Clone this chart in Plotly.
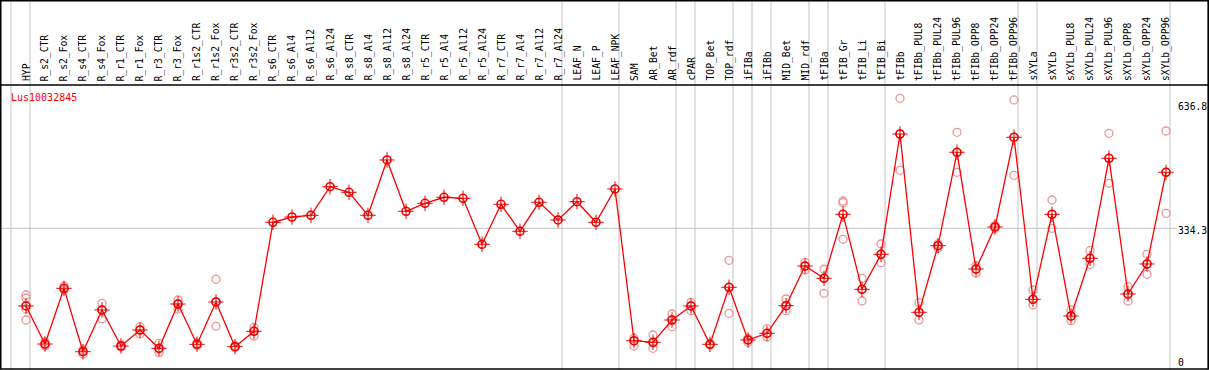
import plotly.graph_objects as go

categories = [
    "HYP", "R_s2_CTR", "R_s2_Fox", "R_s4_CTR", "R_s4_Fox", "R_r1_CTR", "R_r1_Fox",
    "R_r3_CTR", "R_r3_Fox", "R_r1s2_CTR", "R_r1s2_Fox", "R_r3s2_CTR", "R_r3s2_Fox",
    "R_s6_CTR", "R_s6_Al4", "R_s6_Al12", "R_s6_Al24", "R_s8_CTR", "R_s8_Al4",
    "R_s8_Al12", "R_s8_Al24", "R_r5_CTR", "R_r5_Al4", "R_r5_Al12", "R_r5_Al24",
    "R_r7_CTR", "R_r7_Al4", "R_r7_Al12", "R_r7_Al24", "LEAF_N", "LEAF_P", "LEAF_NPK",
    "SAM", "AR_Bet", "AR_rdf", "cPAR", "TOP_Bet", "TOP_rdf", "iFIBa", "iFIBb",
    "MID_Bet", "MID_rdf", "tFIBa", "tFIB_Gr", "tFIB_Li", "tFIB_Bi", "tFIBb",
    "tFIBb_PUL8", "tFIBb_PUL24", "tFIBb_PUL96", "tFIBb_OPP8", "tFIBb_OPP24", "tFIBb_OPP96",
    "sXYLa", "sXYLb", "sXYLb_PUL8", "sXYLb_PUL24", "sXYLb_PUL96", "sXYLb_OPP8",
    "sXYLb_OPP24", "sXYLb_OPP96",
]

means = [
    153.6, 65.1, 194.7, 47.2, 144.3, 60.5, 97.7, 55.1, 158.2, 64.4, 162.9, 58.9, 94.7,
    348.3, 360.6, 364.6, 431.1, 418.1, 364.6, 493.3, 373.9, 392.5, 406.5, 404.1, 297.1,
    390.2, 327.4, 394.8, 353.7, 396.2, 348.3, 425.8,
    72.8, 69.1, 121.0, 153.6, 64.4, 197.1, 74.5, 90.0, 154.3, 246.6, 218.0, 366.9,
    192.4, 273.8, 553.7, 138.9, 293.9, 511.2, 239.6, 337.4, 546.1,
    169.1, 366.9, 130.3, 264.5, 497.2, 181.5, 251.3, 464.6,
]

replicates = [
    [179.2, 172.2, 146.6, 121.0], [69.8, 62.8, 60.5], [200.1, 193.1, 190.8],
    [51.2, 41.9, 48.9], [159.8, 144.3, 124.0], [62.8, 60.5, 58.2], [105.4, 97.7, 88.4],
    [66.8, 53.5, 44.9], [167.5, 158.2, 146.6], [67.5, 64.0, 61.7], [215.7, 162.9, 106.3],
    [61.7, 58.2, 57.0], [104.0, 95.4, 83.8],
    [], [], [], [], [], [], [], [], [], [], [], [], [], [], [], [], [], [], [],
    [78.4, 72.1, 60.5], [86.1, 67.5, 55.1], [134.9, 121.0, 105.4], [162.2, 153.6, 142.6],
    [66.3, 64.4, 62.8], [259.9, 197.1, 136.6], [78.4, 74.5, 69.1], [100.7, 90.0, 80.7],
    [169.8, 153.6, 142.6], [255.2, 246.6, 237.3], [239.0, 218.0, 183.1],
    [397.9, 393.9, 308.7], [218.0, 192.4, 165.2], [297.8, 273.8, 254.3],
    [636.8, 553.7, 469.3], [161.2, 138.9, 121.0], [297.8, 293.9, 287.8],
    [557.7, 511.2, 464.6], [247.3, 239.6, 229.6], [340.9, 337.4, 333.9],
    [632.9, 546.1, 457.7],
    [190.8, 169.1, 155.9], [400.2, 366.9, 334.3], [144.3, 130.3, 119.4],
    [282.2, 264.5, 250.6], [555.4, 497.2, 439.0], [198.5, 181.5, 165.2],
    [273.8, 251.3, 227.3], [560.7, 464.6, 369.2],
]

group_ends = [-1, 0, 28, 31, 34, 35, 37, 38, 39, 41, 42, 45, 52, 53, 60]
title_text = "Lus10032845"
y_tick_labels = ["636.8", "334.3", "0"]
grid_value = 334.3

W, H = 1209, 370
x_idx = list(range(len(categories)))

rx, ry = [], []
for i, reps in enumerate(replicates):
    for v in reps:
        rx.append(i)
        ry.append(v)

fig = go.Figure()
fig.add_trace(go.Scatter(
    x=rx, y=ry, mode="markers", hoverinfo="skip",
    marker=dict(symbol="circle-open", size=8, color="rgb(236,150,150)",
                line=dict(width=1.3, color="rgb(236,150,150)")),
))
fig.add_trace(go.Scatter(
    x=x_idx, y=means, mode="lines", hoverinfo="skip",
    line=dict(color="#ff0000", width=1.3),
))
fig.add_trace(go.Scatter(
    x=x_idx, y=means, mode="markers", hoverinfo="skip",
    marker=dict(symbol="cross-thin-open", size=11, color="#ee0000",
                line=dict(width=1.0, color="#ee0000")),
))
fig.add_trace(go.Scatter(
    x=x_idx, y=means, mode="markers", hoverinfo="skip",
    marker=dict(symbol="circle-open", size=8, color="#ee0000",
                line=dict(width=1.6, color="#ee0000")),
))

shapes = []
for g in group_ends:
    shapes.append(dict(type="line", xref="x", yref="paper", x0=g + 0.21, x1=g + 0.21,
                       y0=0, y1=1, line=dict(color="#c4c4c4", width=1), layer="below"))
shapes.append(dict(type="line", xref="paper", yref="y", x0=0, x1=1177 / W,
                   y0=grid_value, y1=grid_value, line=dict(color="#c4c4c4", width=1),
                   layer="below"))
shapes.append(dict(type="line", xref="paper", yref="paper", x0=0, x1=1,
                   y0=1 - 85 / H, y1=1 - 85 / H, line=dict(color="black", width=1.6)))
shapes.append(dict(type="rect", xref="paper", yref="paper", x0=0.7 / W, x1=1208.2 / W,
                   y0=1 - 369 / H, y1=1 - 0.7 / H, line=dict(color="black", width=1.6)))

annotations = []
mono = "DejaVu Sans Mono"
for i, c in enumerate(categories):
    annotations.append(dict(
        x=i, y=1 - 83 / H, xref="x", yref="paper", text=c, textangle=-90,
        xanchor="center", yanchor="bottom", showarrow=False,
        font=dict(family=mono, size=9.7, color="black"),
    ))
annotations.append(dict(
    x=9 / W, y=1 - 98 / H, xref="paper", yref="paper", text=title_text,
    xanchor="left", yanchor="middle", showarrow=False,
    font=dict(family=mono, size=10, color="#ff0000"),
))
for lbl, py in zip(y_tick_labels, [107, 231, 362]):
    annotations.append(dict(
        x=1176 / W, y=1 - py / H, xref="paper", yref="paper", text=lbl,
        xanchor="left", yanchor="middle", showarrow=False,
        font=dict(family=mono, size=9.7, color="black"),
    ))

fig.update_layout(
    width=W, height=H, margin=dict(l=0, r=0, t=0, b=0),
    paper_bgcolor="white", plot_bgcolor="white", showlegend=False,
    xaxis=dict(range=[-1.368, 62.263], visible=False, fixedrange=True),
    yaxis=dict(range=[4.65, 865.5], visible=False, fixedrange=True),
    shapes=shapes, annotations=annotations,
)

fig.write_html(
    "out.html",
    config={"displayModeBar": False},
    post_script="document.body.style.margin='0px';document.body.style.overflow='hidden';",
)
